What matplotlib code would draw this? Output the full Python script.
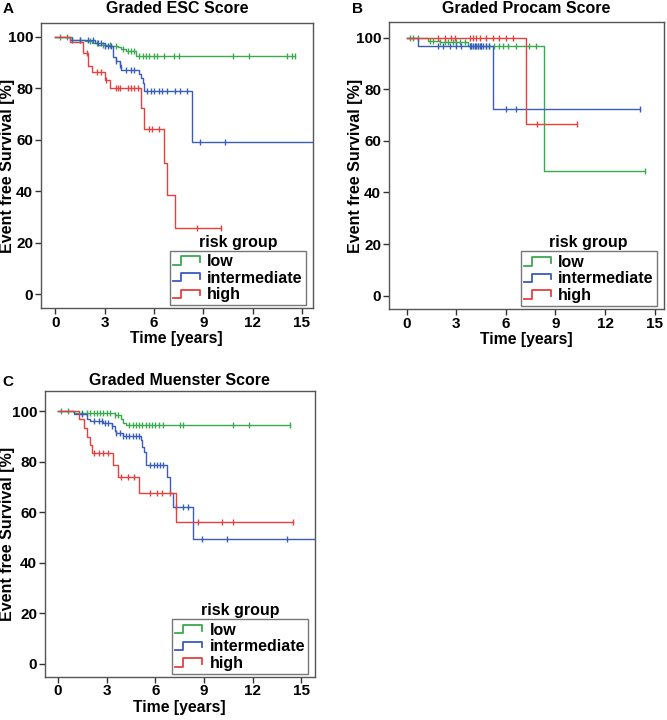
import numpy as np
import matplotlib
matplotlib.use("Agg")
import matplotlib.pyplot as plt
from matplotlib.lines import Line2D
from matplotlib.legend_handler import HandlerLine2D

plt.rcParams['font.family'] = ['Liberation Sans', 'DejaVu Sans']
plt.rcParams['font.weight'] = 'bold'

# ---- data (time in years, survival in %) ----
groups = ["low", "intermediate", "high"]
colors = ["#3aaa4e", "#3a5cbf", "#e8403f"]

# Graded ESC Score
esc_low_t = [1.0, 1.8, 2.2, 2.6, 3.4, 3.8, 4.0, 4.3, 4.9]
esc_low_s = [99.0, 98.4, 97.6, 97.0, 96.5, 96.0, 95.3, 94.6, 92.5]
esc_low_cens = [0.3, 0.7, 1.5, 2.1, 2.5, 2.9, 3.3, 3.7, 4.1, 4.4, 4.6, 4.8, 5.1, 5.3,
                5.5, 5.7, 6.0, 6.2, 6.6, 7.2, 7.5, 10.8, 11.8, 14.1, 14.4, 14.6]
esc_low_end = 14.6
esc_int_t = [0.9, 2.4, 3.0, 3.5, 3.7, 3.9, 4.0, 5.1, 5.2, 5.3, 5.4, 8.3]
esc_int_s = [99.0, 97.5, 96.6, 92.1, 90.5, 89.0, 87.2, 85.5, 84.0, 82.0, 78.8, 59.2]
esc_int_cens = [1.0, 1.5, 2.0, 2.3, 2.6, 2.8, 3.0, 3.2, 3.4, 3.7, 3.9, 4.3, 4.6, 4.8,
                5.6, 5.8, 6.0, 6.3, 6.5, 6.8, 7.3, 7.6, 8.0, 8.8, 10.3]
esc_int_end = 16.0
esc_high_t = [0.9, 1.7, 2.0, 2.2, 3.0, 3.3, 5.2, 5.4, 6.6, 6.8, 7.3]
esc_high_s = [98.0, 93.7, 88.7, 86.4, 83.2, 80.0, 72.2, 64.2, 51.2, 38.6, 25.6]
esc_high_cens = [1.9, 2.5, 2.8, 3.1, 3.7, 3.8, 3.9, 4.4, 4.6, 4.8, 5.0, 5.7, 5.9,
                 6.3, 8.6, 10.1]
esc_high_end = 10.1

# Graded Procam Score
pro_low_t = [1.3, 2.0, 3.7, 8.3]
pro_low_s = [98.8, 98.3, 96.6, 48.3]
pro_low_cens = [0.2, 0.4, 0.7, 1.4, 1.6, 2.0, 2.3, 2.5, 2.8, 3.0, 3.2, 3.5, 3.9, 4.1,
                4.3, 4.5, 4.8, 5.0, 5.3, 5.6, 5.8, 6.1, 6.6, 7.4, 7.8, 14.4]
pro_low_end = 14.4
pro_int_t = [0.7, 5.2]
pro_int_s = [96.7, 72.5]
pro_int_cens = [1.9, 2.2, 2.6, 3.0, 3.3, 3.8, 3.9, 4.0, 4.1, 4.2, 4.3, 4.4, 4.5, 4.6,
                4.8, 5.0, 6.0, 6.6, 14.1]
pro_int_end = 14.1
pro_high_t = [7.2]
pro_high_s = [66.7]
pro_high_cens = [1.9, 2.3, 2.7, 2.9, 3.8, 4.0, 4.2, 4.4, 4.8, 5.2, 5.6, 6.0, 6.4,
                 7.9, 10.3]
pro_high_end = 10.3

# Graded Muenster Score
mue_low_t = [1.0, 3.5, 3.9, 4.0, 4.2]
mue_low_s = [99.2, 98.5, 97.0, 95.5, 94.5]
mue_low_cens = [0.2, 0.6, 1.5, 1.8, 2.0, 2.2, 2.4, 2.6, 2.8, 3.0, 3.2, 3.5, 3.7, 4.4,
                4.6, 4.8, 5.0, 5.2, 5.4, 5.6, 5.8, 6.0, 6.2, 6.5, 7.5, 7.7, 10.8,
                11.8, 14.3]
mue_low_end = 14.3
mue_int_t = [1.0, 1.8, 2.0, 2.8, 3.3, 3.5, 3.6, 4.0, 5.1, 5.2, 5.3, 5.4, 6.7, 6.9,
             7.1, 8.3]
mue_int_s = [99.0, 97.0, 96.0, 95.2, 94.0, 92.0, 91.2, 90.1, 88.5, 86.0, 84.0, 78.7,
             74.0, 67.6, 62.0, 49.5]
mue_int_cens = [1.5, 2.2, 2.5, 2.7, 2.9, 3.1, 3.3, 3.6, 3.8, 4.0, 4.2, 4.4, 4.6, 4.8,
                5.0, 5.7, 5.9, 6.1, 6.3, 6.5, 7.3, 7.7, 8.0, 8.9, 10.4, 14.1]
mue_int_end = 16.0
mue_high_t = [1.3, 1.6, 1.8, 2.0, 2.1, 3.4, 3.7, 5.0, 7.3]
mue_high_s = [97.0, 93.5, 89.8, 86.5, 83.4, 78.6, 73.8, 67.6, 56.3]
mue_high_cens = [2.2, 2.5, 2.8, 3.1, 3.9, 4.3, 4.7, 5.7, 6.1, 6.4, 6.9, 8.6, 10.1,
                 10.8, 14.5]
mue_high_end = 14.5

panels = [
    ("A", "Graded ESC Score",
     [(esc_low_t, esc_low_s, esc_low_cens, esc_low_end),
      (esc_int_t, esc_int_s, esc_int_cens, esc_int_end),
      (esc_high_t, esc_high_s, esc_high_cens, esc_high_end)]),
    ("B", "Graded Procam Score",
     [(pro_low_t, pro_low_s, pro_low_cens, pro_low_end),
      (pro_int_t, pro_int_s, pro_int_cens, pro_int_end),
      (pro_high_t, pro_high_s, pro_high_cens, pro_high_end)]),
    ("C", "Graded Muenster Score",
     [(mue_low_t, mue_low_s, mue_low_cens, mue_low_end),
      (mue_int_t, mue_int_s, mue_int_cens, mue_int_end),
      (mue_high_t, mue_high_s, mue_high_cens, mue_high_end)]),
]

# axes rects (fig fraction) and limits
rects = [[0.061, 0.572, 0.408, 0.396],
         [0.583, 0.571, 0.412, 0.398],
         [0.067, 0.060, 0.405, 0.397]]
xlims = [(-0.9, 15.67), (-1.09, 15.55), (-0.82, 15.83)]
ylims = [(-5.4, 105.4), (-5.1, 105.9), (-5.2, 108.0)]
letter_pos = [(0.004, 0.997), (0.527, 0.997), (0.004, 0.479)]
ylabel_x = [-0.096, -0.095, -0.111]
title_pad = [7, 7, 4]


class StepHandler(HandlerLine2D):
    def create_artists(self, legend, orig_handle, xdescent, ydescent,
                       width, height, fontsize, trans):
        x0 = -xdescent
        y0 = -ydescent
        xs = [x0, x0 + width * 0.3, x0 + width * 0.3, x0 + width, x0 + width]
        ys = [y0 + height * 0.1, y0 + height * 0.1, y0 + height * 0.85,
              y0 + height * 0.85, y0 + height * 0.35]
        ln = Line2D(xs, ys, color=orig_handle.get_color(), lw=1.3)
        ln.set_transform(trans)
        return [ln]


def survival_at(t, times, surv):
    s = 100.0
    for tt, ss in zip(times, surv):
        if t >= tt:
            s = ss
    return s


fig = plt.figure(figsize=(6.67, 7.2), dpi=100)

for i, (letter, title, series) in enumerate(panels):
    ax = fig.add_axes(rects[i])
    handles = []
    for (times, surv, cens, end), col, lab in zip(series, colors, groups):
        xs = [0] + list(times) + [end]
        ys = [100] + list(surv) + [surv[-1]]
        ln, = ax.step(xs, ys, where='post', color=col, lw=1.0, label=lab)
        cy = [survival_at(c, times, surv) for c in cens]
        ax.plot(cens, cy, '|', color=col, ms=4.5, mew=1.0)
        handles.append(ln)
    ax.set_xlim(xlims[i])
    ax.set_ylim(ylims[i])
    ax.set_xticks([0, 3, 6, 9, 12, 15])
    ax.set_yticks([0, 20, 40, 60, 80, 100])
    ax.tick_params(labelsize=11, length=4, width=1, color='#333333', pad=1.5)
    for sp in ax.spines.values():
        sp.set_color('#555555')
        sp.set_linewidth(1.0)
    ax.set_title(title, fontsize=11.5, fontweight='bold', pad=title_pad[i])
    ax.set_ylabel("Event free Survival [%]", fontsize=11.5, fontweight='bold')
    ax.yaxis.set_label_coords(ylabel_x[i], 0.5)
    ax.set_xlabel("Time [years]", fontsize=11.3, fontweight='bold', labelpad=1)
    fig.text(letter_pos[i][0], letter_pos[i][1], letter, fontsize=11,
             fontweight='bold', va='top', ha='left')
    ax.text(0.725, 0.232, "risk group", transform=ax.transAxes, fontsize=11.5,
            fontweight='bold', ha='center', va='center')
    leg = ax.legend(handles=handles, loc='lower right', bbox_to_anchor=(0.975, 0.01),
                    borderaxespad=0, fontsize=11.5, frameon=True, fancybox=False,
                    edgecolor='#555555', handlelength=1.7, handletextpad=0.45,
                    labelspacing=0.1, borderpad=0.2,
                    handler_map={Line2D: StepHandler()})
    leg.get_frame().set_linewidth(1.0)

plt.savefig("out.png", dpi=100)
